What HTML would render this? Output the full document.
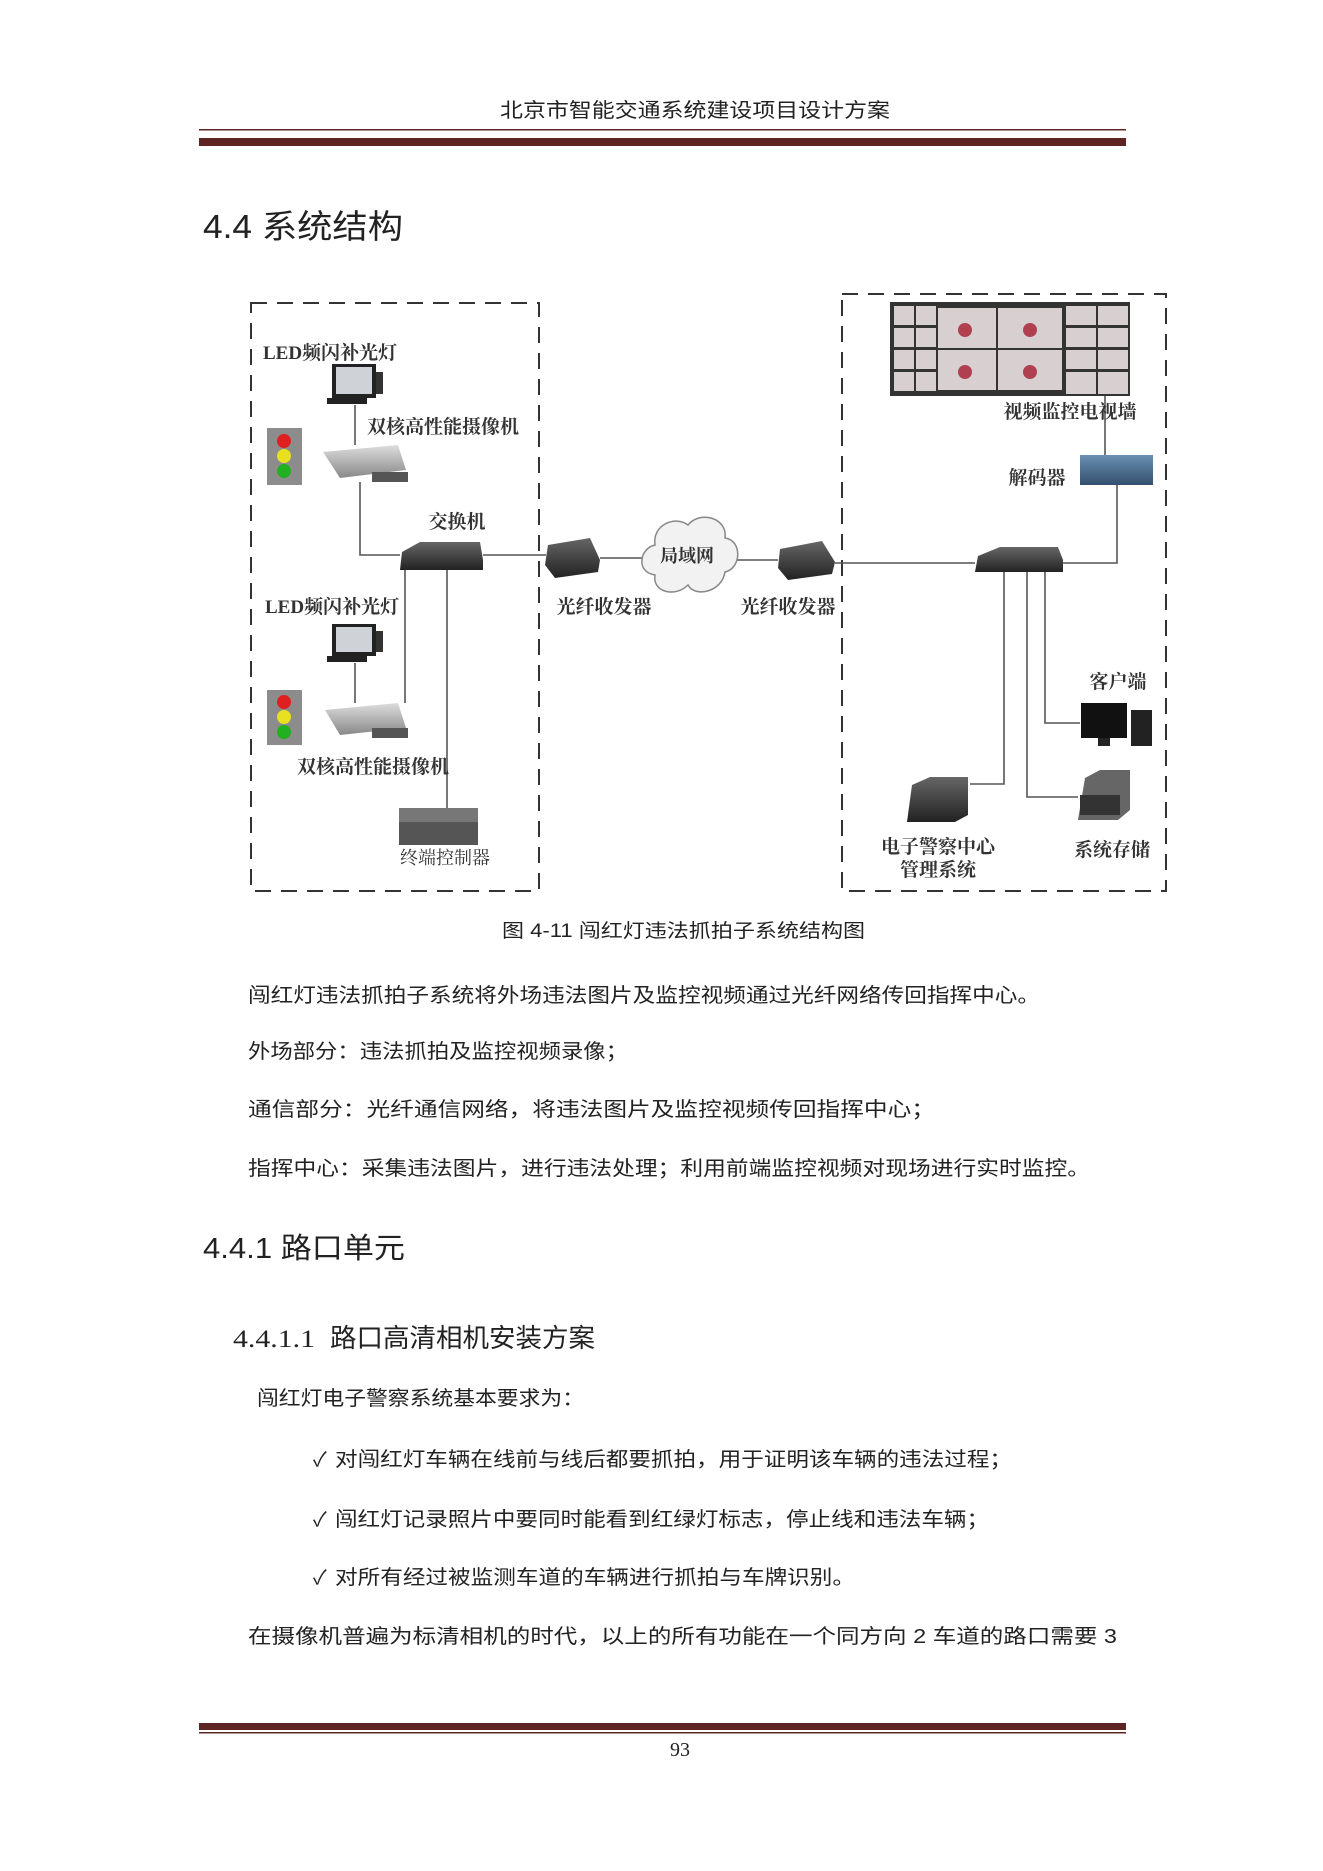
<!DOCTYPE html>
<html><head><meta charset="utf-8"><style>
html,body{margin:0;padding:0;background:#fff;}
svg{display:block}
.t{font-family:"Liberation Sans","Noto Sans CJK SC",sans-serif;fill:#222}
.d{font-family:"Liberation Serif","Noto Serif CJK SC",serif;fill:#333;font-weight:bold}
</style></head><body>
<svg width="1323" height="1871" viewBox="0 0 1323 1871" xmlns="http://www.w3.org/2000/svg">
<defs>
<linearGradient id="dev" x1="0" y1="0" x2="0" y2="1"><stop offset="0" stop-color="#666"/><stop offset="1" stop-color="#222"/></linearGradient>
<linearGradient id="cam" x1="0" y1="0" x2="0" y2="1"><stop offset="0" stop-color="#ddd"/><stop offset="1" stop-color="#888"/></linearGradient>
<linearGradient id="blu" x1="0" y1="0" x2="0" y2="1"><stop offset="0" stop-color="#6a8fb0"/><stop offset="1" stop-color="#34506e"/></linearGradient>
</defs>
<!-- header -->
<text class="t" x="500" y="117" font-size="20" textLength="390" lengthAdjust="spacingAndGlyphs">北京市智能交通系统建设项目设计方案</text>
<rect x="199" y="129" width="927" height="1.5" fill="#5e2424"/>
<rect x="199" y="138" width="927" height="8" fill="#5e2424"/>
<text class="t" x="203" y="238" font-size="33" textLength="200" lengthAdjust="spacingAndGlyphs">4.4 系统结构</text>

<!-- dashed boxes -->
<rect x="251" y="303" width="288" height="588" fill="none" stroke="#333" stroke-width="2" stroke-dasharray="16,10"/>
<rect x="842" y="294" width="324" height="597" fill="none" stroke="#333" stroke-width="2" stroke-dasharray="16,10"/>

<!-- lines -->
<g stroke="#555" stroke-width="1.6" fill="none">
<line x1="355" y1="405" x2="355" y2="445"/>
<polyline points="360,482 360,555 400,555"/>
<line x1="483" y1="555" x2="546" y2="555"/>
<line x1="405" y1="570" x2="405" y2="703"/>
<line x1="447" y1="570" x2="447" y2="808"/>
<line x1="355" y1="663" x2="355" y2="703"/>
<line x1="600" y1="558" x2="645" y2="558"/>
<line x1="735" y1="560" x2="778" y2="560"/>
<line x1="835" y1="563" x2="975" y2="563"/>
<line x1="1105" y1="396" x2="1105" y2="455"/>
<polyline points="1117,485 1117,563 1063,563"/>
<polyline points="1004,572 1004,784 970,784"/>
<polyline points="1027,572 1027,797 1078,797"/>
<polyline points="1045,572 1045,723 1080,723"/>
</g>

<!-- LED light 1 -->
<g>
<rect x="332" y="364" width="44" height="34" fill="#222"/>
<rect x="336" y="367" width="36" height="27" fill="#cfd3d8"/>
<rect x="376" y="372" width="7" height="22" fill="#333"/>
<rect x="327" y="398" width="40" height="6" fill="#222"/>
</g>
<!-- LED light 2 -->
<g>
<rect x="332" y="624" width="44" height="32" fill="#222"/>
<rect x="336" y="627" width="36" height="25" fill="#cfd3d8"/>
<rect x="376" y="631" width="7" height="21" fill="#333"/>
<rect x="327" y="656" width="40" height="6" fill="#222"/>
</g>
<!-- traffic lights -->
<g>
<rect x="267" y="428" width="35" height="57" fill="#8c8c8c"/>
<circle cx="284" cy="441" r="7" fill="#e02020"/><circle cx="284" cy="456" r="7" fill="#e8e020"/><circle cx="284" cy="471" r="7" fill="#20b020"/>
<rect x="267" y="690" width="35" height="55" fill="#8c8c8c"/>
<circle cx="284" cy="702" r="7" fill="#e02020"/><circle cx="284" cy="717" r="7" fill="#e8e020"/><circle cx="284" cy="732" r="7" fill="#20b020"/>
</g>
<!-- cameras -->
<g>
<polygon points="323,452 398,445 406,470 340,478" fill="url(#cam)"/>
<rect x="372" y="472" width="36" height="10" fill="#555"/>
<polygon points="325,710 398,703 406,728 340,735" fill="url(#cam)"/>
<rect x="372" y="728" width="36" height="10" fill="#555"/>
</g>
<!-- switch left -->
<polygon points="402,552 420,542 480,542 483,560 483,570 400,570" fill="url(#dev)"/>
<!-- controller -->
<rect x="399" y="808" width="79" height="37" fill="#555"/>
<rect x="399" y="808" width="79" height="14" fill="#777"/>
<!-- transceivers -->
<polygon points="548,545 590,538 600,560 598,572 555,578 545,565" fill="url(#dev)"/>
<polygon points="780,549 822,541 835,562 832,574 788,580 778,568" fill="url(#dev)"/>
<!-- cloud -->
<path d="M655,575 C635,572 640,548 655,545 C652,525 675,515 688,525 C700,510 728,518 725,538 C742,540 742,568 725,572 C722,592 695,598 688,585 C675,598 652,592 655,575 Z" fill="#f2f2f2" stroke="#888" stroke-width="1.5"/>
<!-- right switch -->
<polygon points="978,556 1000,547 1058,547 1063,560 1063,572 975,572" fill="url(#dev)"/>
<!-- TV wall -->
<rect x="890" y="302" width="240" height="94" fill="#333"/>
<g fill="#d8d0d0">
<rect x="894" y="306" width="20" height="19"/><rect x="916" y="306" width="20" height="19"/>
<rect x="894" y="328" width="20" height="19"/><rect x="916" y="328" width="20" height="19"/>
<rect x="894" y="350" width="20" height="19"/><rect x="916" y="350" width="20" height="19"/>
<rect x="894" y="372" width="20" height="19"/><rect x="916" y="372" width="20" height="19"/>
<rect x="938" y="308" width="58" height="40"/><rect x="998" y="308" width="64" height="40"/>
<rect x="938" y="350" width="58" height="40"/><rect x="998" y="350" width="64" height="40"/>
<rect x="1066" y="306" width="30" height="19"/><rect x="1098" y="306" width="30" height="19"/>
<rect x="1066" y="328" width="30" height="19"/><rect x="1098" y="328" width="30" height="19"/>
<rect x="1066" y="350" width="30" height="19"/><rect x="1098" y="350" width="30" height="19"/>
<rect x="1066" y="372" width="30" height="22"/><rect x="1098" y="372" width="30" height="22"/>
</g>
<g fill="#b04050"><circle cx="965" cy="330" r="7"/><circle cx="1030" cy="330" r="7"/><circle cx="965" cy="372" r="7"/><circle cx="1030" cy="372" r="7"/></g>
<!-- decoder -->
<rect x="1080" y="455" width="73" height="30" fill="url(#blu)"/>
<!-- server, client, storage -->
<polygon points="912,785 930,777 968,777 968,815 955,822 907,822" fill="url(#dev)"/>
<rect x="1081" y="703" width="46" height="35" fill="#111"/>
<rect x="1098" y="738" width="12" height="8" fill="#222"/>
<rect x="1131" y="710" width="21" height="36" fill="#222"/>
<polygon points="1085,778 1100,770 1130,770 1130,810 1118,820 1078,820" fill="#666"/>
<rect x="1080" y="795" width="40" height="20" fill="#333"/>

<!-- diagram labels -->
<text class="d" x="263" y="359" font-size="19">LED频闪补光灯</text>
<text class="d" x="367" y="433" font-size="19">双核高性能摄像机</text>
<text class="d" x="457" y="528" font-size="19" text-anchor="middle">交换机</text>
<text class="d" x="265" y="613" font-size="19">LED频闪补光灯</text>
<text class="d" x="373" y="773" font-size="19" text-anchor="middle">双核高性能摄像机</text>
<text class="d" x="445" y="864" font-size="18" text-anchor="middle" style="font-weight:normal">终端控制器</text>
<text class="d" x="604" y="613" font-size="19" text-anchor="middle">光纤收发器</text>
<text class="d" x="788" y="613" font-size="19" text-anchor="middle">光纤收发器</text>
<text class="d" x="687" y="562" font-size="18" text-anchor="middle">局域网</text>
<text class="d" x="1070" y="418" font-size="19" text-anchor="middle">视频监控电视墙</text>
<text class="d" x="1037" y="484" font-size="19" text-anchor="middle">解码器</text>
<text class="d" x="1118" y="688" font-size="19" text-anchor="middle">客户端</text>
<text class="d" x="938" y="853" font-size="19" text-anchor="middle">电子警察中心</text>
<text class="d" x="938" y="876" font-size="19" text-anchor="middle">管理系统</text>
<text class="d" x="1112" y="856" font-size="19" text-anchor="middle">系统存储</text>

<!-- caption & body -->
<text class="t" x="502" y="937" font-size="19" textLength="363" lengthAdjust="spacingAndGlyphs">图 4-11 闯红灯违法抓拍子系统结构图</text>
<text class="t" x="248" y="1002" font-size="20" textLength="792" lengthAdjust="spacingAndGlyphs">闯红灯违法抓拍子系统将外场违法图片及监控视频通过光纤网络传回指挥中心。</text>
<text class="t" x="248" y="1058" font-size="20" textLength="380" lengthAdjust="spacingAndGlyphs">外场部分：违法抓拍及监控视频录像；</text>
<text class="t" x="248" y="1116" font-size="20" textLength="687" lengthAdjust="spacingAndGlyphs">通信部分：光纤通信网络，将违法图片及监控视频传回指挥中心；</text>
<text class="t" x="248" y="1175" font-size="20" textLength="842" lengthAdjust="spacingAndGlyphs">指挥中心：采集违法图片，进行违法处理；利用前端监控视频对现场进行实时监控。</text>
<text class="t" x="203" y="1258" font-size="29" textLength="202" lengthAdjust="spacingAndGlyphs">4.4.1 路口单元</text>
<text class="t" x="233" y="1347" font-size="25" font-family="Liberation Serif" style="font-family:'Liberation Serif',serif" textLength="82" lengthAdjust="spacingAndGlyphs">4.4.1.1</text>
<text class="t" x="330" y="1347" font-size="26" textLength="265" lengthAdjust="spacingAndGlyphs">路口高清相机安装方案</text>
<text class="t" x="257" y="1405" font-size="20" textLength="327" lengthAdjust="spacingAndGlyphs">闯红灯电子警察系统基本要求为：</text>
<text class="t" x="313" y="1466" font-size="20">✓</text>
<text class="t" x="335" y="1466" font-size="20" textLength="677" lengthAdjust="spacingAndGlyphs">对闯红灯车辆在线前与线后都要抓拍，用于证明该车辆的违法过程；</text>
<text class="t" x="313" y="1526" font-size="20">✓</text>
<text class="t" x="335" y="1526" font-size="20" textLength="654" lengthAdjust="spacingAndGlyphs">闯红灯记录照片中要同时能看到红绿灯标志，停止线和违法车辆；</text>
<text class="t" x="313" y="1584" font-size="20">✓</text>
<text class="t" x="335" y="1584" font-size="20" textLength="520" lengthAdjust="spacingAndGlyphs">对所有经过被监测车道的车辆进行抓拍与车牌识别。</text>
<text class="t" x="248" y="1643" font-size="20" textLength="869" lengthAdjust="spacingAndGlyphs">在摄像机普遍为标清相机的时代，以上的所有功能在一个同方向 2 车道的路口需要 3</text>

<!-- footer -->
<rect x="199" y="1723" width="927" height="7" fill="#5e2424"/>
<rect x="199" y="1732" width="927" height="1.5" fill="#5e2424"/>
<text x="680" y="1756" font-size="20" text-anchor="middle" style="font-family:'Liberation Serif',serif;fill:#222">93</text>
</svg>
</body></html>
